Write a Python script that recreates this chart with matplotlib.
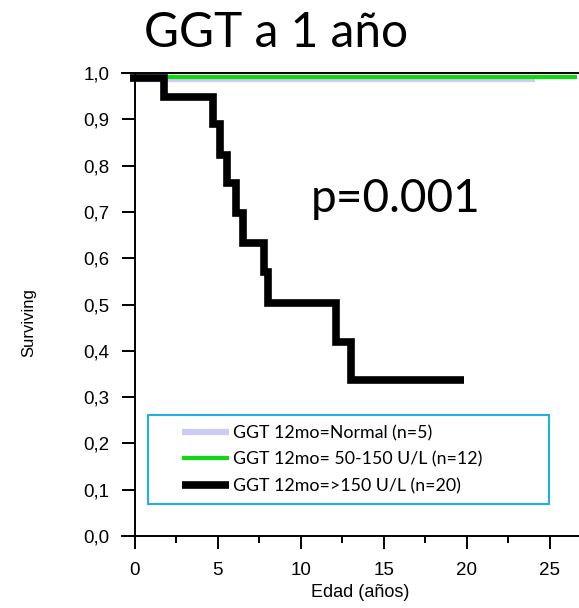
import matplotlib
matplotlib.use("Agg")
import matplotlib.pyplot as plt
from matplotlib.patches import Rectangle

# Kaplan-Meier style step data
high_t = [-0.3, 1.78, 4.73, 5.15, 5.57, 6.11, 6.5, 7.77, 8.04, 12.1, 13.0, 19.8]
high_s = [0.99, 0.948, 0.889, 0.823, 0.762, 0.698, 0.632, 0.570, 0.504, 0.419, 0.337, 0.337]

mid_t = [0.0, 26.6]
mid_s = [0.992, 0.992]

normal_t = [0.0, 24.1]
normal_s = [0.987, 0.987]

labels = ["GGT 12mo=Normal (n=5)", "GGT 12mo= 50-150 U/L (n=12)",
          "GGT 12mo=>150 U/L (n=20)"]
yticks = [0.0, 0.1, 0.2, 0.3, 0.4, 0.5, 0.6, 0.7, 0.8, 0.9, 1.0]
xticks = [0, 5, 10, 15, 20, 25]

TICK_FONT = "Liberation Sans"
TEXT_FONT = "Lato"

fig = plt.figure(figsize=(5.79, 6.08), dpi=100)
ax = fig.add_axes([0.2107, 0.1184, 0.7893, 0.7615])

l_norm, = ax.plot(normal_t, normal_s, drawstyle="steps-post", color="#ccccf7",
                  lw=4.5, solid_capstyle="butt")
l_mid, = ax.plot(mid_t, mid_s, drawstyle="steps-post", color="#11d911",
                 lw=3, solid_capstyle="butt")
l_high, = ax.plot(high_t, high_s, drawstyle="steps-post", color="black",
                  lw=5.5, solid_capstyle="butt", solid_joinstyle="miter")

ax.set_xlim(-0.78, 26.75)
ax.set_ylim(0, 1.0)

ax.spines["left"].set_position(("data", 0))
ax.spines["right"].set_visible(False)
for s in ["left", "bottom", "top"]:
    ax.spines[s].set_linewidth(1.4)

ax.set_yticks(yticks)
ax.set_yticklabels([f"{v:.1f}".replace(".", ",") for v in yticks])
ax.set_xticks(xticks)
ax.set_xticks([2.5, 7.5, 12.5, 17.5, 22.5], minor=True)
ax.tick_params(axis="both", which="major", length=9.5, width=1.4, pad=9,
               labelsize=13.5)
ax.tick_params(axis="x", which="minor", length=5, width=1.4)
for lab in ax.get_xticklabels() + ax.get_yticklabels():
    lab.set_fontfamily(TICK_FONT)

ax.set_xlabel("Edad (años)", fontsize=13, family=TICK_FONT, va="center")
ax.xaxis.set_label_coords(0.521, -0.123)
ax.set_ylabel("Surviving", fontsize=12, family=TICK_FONT, va="center")
ax.yaxis.set_label_coords(-0.2035, 0.462)

fig.text(0.477, 0.923, "GGT a 1 año", fontsize=34.5, family=TEXT_FONT,
         ha="center", va="baseline")
ax.text(15.7, 0.728, "p=0.001", fontsize=33, family=TEXT_FONT,
        ha="center", va="center")

# legend box
ax.add_patch(Rectangle((0.057, 0.069), 0.877, 0.193, transform=ax.transAxes,
                       fill=False, edgecolor="#22aee6", lw=1.5, zorder=3))
leg = ax.legend([l_norm, l_mid, l_high], labels, loc="upper left",
                bbox_to_anchor=(0.131, 0.24), frameon=False,
                prop={"family": TEXT_FONT, "size": 12.8},
                handlelength=2.64, handletextpad=0.25, labelspacing=0.59,
                borderaxespad=0, borderpad=0)

fig.savefig("out.png", dpi=100)
